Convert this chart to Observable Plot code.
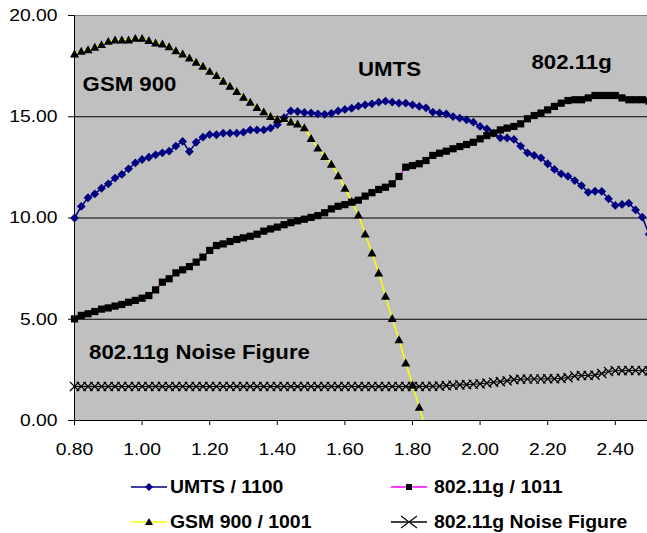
<!DOCTYPE html>
<html><head><meta charset="utf-8">
<script src="https://cdn.jsdelivr.net/npm/d3@7"></script>
<script src="https://cdn.jsdelivr.net/npm/@observablehq/plot@0.6"></script>
<style>
body{margin:0;background:#fff;font-family:"Liberation Sans",Arial,sans-serif;}
#wrap{position:relative;width:647px;height:533px;overflow:hidden;}
#legend{position:absolute;left:0;top:470px;width:647px;height:63px;}
.sw{position:absolute;width:36px;height:16px;}
.lt{position:absolute;font-weight:bold;font-size:17.5px;line-height:20px;height:20px;white-space:nowrap;color:#000;transform:scaleX(1.11);transform-origin:left center;}
</style></head><body>
<div id="wrap"><div id="chart"></div><div id="legend"></div></div>
<script>
// Frequency (GHz) of every sample
const freq = [0.80,0.82,0.84,0.86,0.88,0.90,0.92,0.94,0.96,0.98,
1.00,1.02,1.04,1.06,1.08,1.10,1.12,1.14,1.16,1.18,
1.20,1.22,1.24,1.26,1.28,1.30,1.32,1.34,1.36,1.38,
1.40,1.42,1.44,1.46,1.48,1.50,1.52,1.54,1.56,1.58,
1.60,1.62,1.64,1.66,1.68,1.70,1.72,1.74,1.76,1.78,
1.80,1.82,1.84,1.86,1.88,1.90,1.92,1.94,1.96,1.98,
2.00,2.02,2.04,2.06,2.08,2.10,2.12,2.14,2.16,2.18,
2.20,2.22,2.24,2.26,2.28,2.30,2.32,2.34,2.36,2.38,
2.40,2.42,2.44,2.46,2.48,2.50];

const umts = [10.00,10.57,11.00,11.19,11.47,11.69,11.97,12.15,12.43,12.72,
12.89,13.00,13.12,13.22,13.30,13.55,13.78,13.28,13.74,13.99,
14.12,14.11,14.19,14.19,14.19,14.24,14.35,14.35,14.35,14.44,
14.61,14.95,15.29,15.26,15.21,15.19,15.14,15.12,15.17,15.29,
15.36,15.42,15.52,15.59,15.64,15.72,15.77,15.72,15.67,15.67,
15.59,15.51,15.44,15.23,15.19,15.14,15.01,14.93,14.85,14.73,
14.52,14.40,14.19,13.96,13.95,13.88,13.55,13.22,13.09,12.97,
12.68,12.40,12.18,12.06,11.85,11.60,11.27,11.32,11.31,10.95,
10.62,10.67,10.73,10.40,10.04,9.20];

const wlan = [5.02,5.19,5.27,5.38,5.50,5.56,5.65,5.73,5.84,5.93,
6.04,6.17,6.45,6.83,7.00,7.29,7.44,7.60,7.82,8.07,
8.40,8.64,8.72,8.84,8.94,9.02,9.10,9.20,9.35,9.46,
9.55,9.67,9.77,9.86,9.94,10.03,10.12,10.26,10.45,10.58,
10.66,10.78,10.88,11.08,11.25,11.41,11.52,11.69,12.05,12.51,
12.59,12.68,12.84,13.09,13.20,13.30,13.42,13.53,13.63,13.74,
13.91,14.07,14.19,14.35,14.44,14.52,14.65,14.90,15.06,15.18,
15.34,15.51,15.67,15.80,15.84,15.84,15.93,16.05,16.05,16.05,
16.05,15.93,15.84,15.84,15.84,15.77];

const gsm = [18.11,18.24,18.32,18.44,18.57,18.73,18.80,18.80,18.80,18.88,
18.88,18.77,18.65,18.60,18.47,18.27,18.11,17.91,17.70,17.50,
17.25,17.04,16.76,16.51,16.26,15.97,15.72,15.47,15.25,15.02,
14.87,14.92,14.75,14.65,14.47,13.93,13.46,13.05,12.66,12.10,
11.48,10.82,10.16,9.22,8.28,7.29,6.14,5.05,4.00,2.85,
1.76,0.66,-0.45];

const noise = [1.68,1.68,1.68,1.68,1.68,1.68,1.68,1.68,1.68,1.68,
1.68,1.68,1.68,1.68,1.68,1.68,1.68,1.68,1.68,1.68,
1.68,1.68,1.68,1.68,1.68,1.68,1.68,1.68,1.68,1.68,
1.68,1.68,1.68,1.68,1.68,1.68,1.68,1.68,1.68,1.68,
1.68,1.68,1.68,1.68,1.68,1.68,1.68,1.68,1.68,1.68,
1.68,1.68,1.68,1.69,1.70,1.72,1.74,1.76,1.77,1.79,
1.81,1.85,1.89,1.92,1.96,2.02,2.04,2.05,2.05,2.05,
2.06,2.06,2.08,2.12,2.20,2.22,2.22,2.24,2.32,2.42,
2.46,2.46,2.47,2.47,2.46,2.45];

const xTicks = [0.80,1.00,1.20,1.40,1.60,1.80,2.00,2.20,2.40];
const yTicks = [0,5,10,15,20];

const annoText = ["GSM 900","UMTS","802.11g","802.11g Noise Figure"];
const annoX = [0.824,1.639,2.152,0.843];
const annoY = [16.57,17.31,17.69,3.35];

const legendNames = ["UMTS / 1100","802.11g / 1011","GSM 900 / 1001","802.11g Noise Figure"];

// tables
const table = (ys) => ys.map((v, i) => ({x: freq[i], y: v}));
const tU = table(umts), tW = table(wlan), tG = table(gsm), tN = table(noise);
const annos = annoText.map((t, i) => ({text: t, x: annoX[i], y: annoY[i]}));

// marker shapes
const symDiamond = {draw(c, s){const r = Math.sqrt(s/Math.PI); c.moveTo(0,-r); c.lineTo(r,0); c.lineTo(0,r); c.lineTo(-r,0); c.closePath();}};
const symTriangle = {draw(c, s){const r = Math.sqrt(s/Math.PI); c.moveTo(0,-r); c.lineTo(r*1.05,r*0.85); c.lineTo(-r*1.05,r*0.85); c.closePath();}};
const symSquare = {draw(c, s){const r = Math.sqrt(s/Math.PI); c.moveTo(-r,-r); c.lineTo(r,-r); c.lineTo(r,r); c.lineTo(-r,r); c.closePath();}};
const symTimes = {draw(c, s){const r = Math.sqrt(s/Math.PI); c.moveTo(-r,-r); c.lineTo(r,r); c.moveTo(r,-r); c.lineTo(-r,r);}};

const NAVY = "#000080", MAG = "#ff00ff", YEL = "#ffff00";

const chart = Plot.plot({
  width: 647, height: 470,
  marginLeft: 74, marginRight: 0, marginTop: 15, marginBottom: 50,
  style: {fontFamily: "'Liberation Sans', Arial, sans-serif", fontSize: "16.5px", color: "#000", background: "transparent"},
  x: {domain: [0.8, 2.4953], ticks: xTicks, tickFormat: d => d.toFixed(2), tickSize: 5, tickPadding: 18, label: null},
  y: {domain: [0, 20], ticks: yTicks, tickFormat: d => d.toFixed(2), tickSize: 6, tickPadding: 11, label: null},
  marks: [
    Plot.frame({fill: "#c0c0c0", stroke: "none"}),
    Plot.ruleY([5, 10, 15], {stroke: "#000", strokeWidth: 1}),
    Plot.ruleY([20], {stroke: "#808080", strokeWidth: 1}),
    Plot.ruleX([0.8], {stroke: "#000", strokeWidth: 1}),
    Plot.ruleY([0], {stroke: "#000", strokeWidth: 1}),
    Plot.line(tU, {x: "x", y: "y", stroke: NAVY, strokeWidth: 1.5, clip: true}),
    Plot.line(tW, {x: "x", y: "y", stroke: MAG, strokeWidth: 1.2, clip: true}),
    Plot.line(tN, {x: "x", y: "y", stroke: "#000", strokeWidth: 1, clip: true}),
    Plot.line(tG, {x: "x", y: "y", stroke: YEL, strokeWidth: 1.5, clip: true}),
    Plot.dot(tU, {x: "x", y: "y", symbol: symDiamond, r: 4.4, fill: NAVY, stroke: "none"}),
    Plot.dot(tW, {x: "x", y: "y", symbol: symSquare, r: 3.6, fill: "#000", stroke: "none"}),
    Plot.dot(tN, {x: "x", y: "y", symbol: symTimes, r: 4.6, fill: "none", stroke: "#000", strokeWidth: 1.3}),
    Plot.dot(tG, {x: "x", y: "y", filter: d => d.y >= 0, symbol: symTriangle, r: 4.3, fill: "#000", stroke: "none"}),
    Plot.text(annos, {x: "x", y: "y", text: "text", textAnchor: "start", lineAnchor: "middle", fontSize: 20, fontWeight: "bold", fill: "#000"})
  ]
});
document.getElementById("chart").append(chart);

// horizontal stretch of the text, as in the reference
chart.querySelectorAll("text").forEach(t => {
  const bold = +getComputedStyle(t).fontWeight >= 600;
  const f = bold ? 1.11 : 1.17;
  const L = t.getComputedTextLength();
  if (L > 0) { t.setAttribute("textLength", (L * f).toFixed(2)); t.setAttribute("lengthAdjust", "spacingAndGlyphs"); }
});

// legend
const legendColors = [NAVY, MAG, YEL, "#000"];
const legendMarks = [
  '<path d="M18,4 L22,8 L18,12 L14,8 Z" fill="#000080"/>',
  '<rect x="15" y="5" width="6" height="6" fill="#000"/>',
  '<path d="M18,4 L22,11 L14,11 Z" fill="#000"/>',
  '<path d="M10,2 L26,14 M26,2 L10,14" stroke="#000" stroke-width="1.1" fill="none"/>'
];
const colLeft = [131, 391];
const colText = [170, 434];
const rowMid = [16.5, 51.5];
const legend = document.getElementById("legend");
legendNames.forEach((name, i) => {
  const col = i % 2, row = Math.floor(i / 2);
  const sw = document.createElement("div");
  sw.className = "sw";
  sw.style.left = colLeft[col] + "px";
  sw.style.top = (rowMid[row] - 8) + "px";
  sw.innerHTML = '<svg width="36" height="16"><line x1="0" y1="8" x2="36" y2="8" stroke="' + legendColors[i] + '" stroke-width="1.5"/>' + legendMarks[i] + '</svg>';
  legend.append(sw);
  const tx = document.createElement("div");
  tx.className = "lt";
  tx.style.left = colText[col] + "px";
  tx.style.top = (rowMid[row] - 10) + "px";
  tx.textContent = name;
  legend.append(tx);
});
</script>
</body></html>
